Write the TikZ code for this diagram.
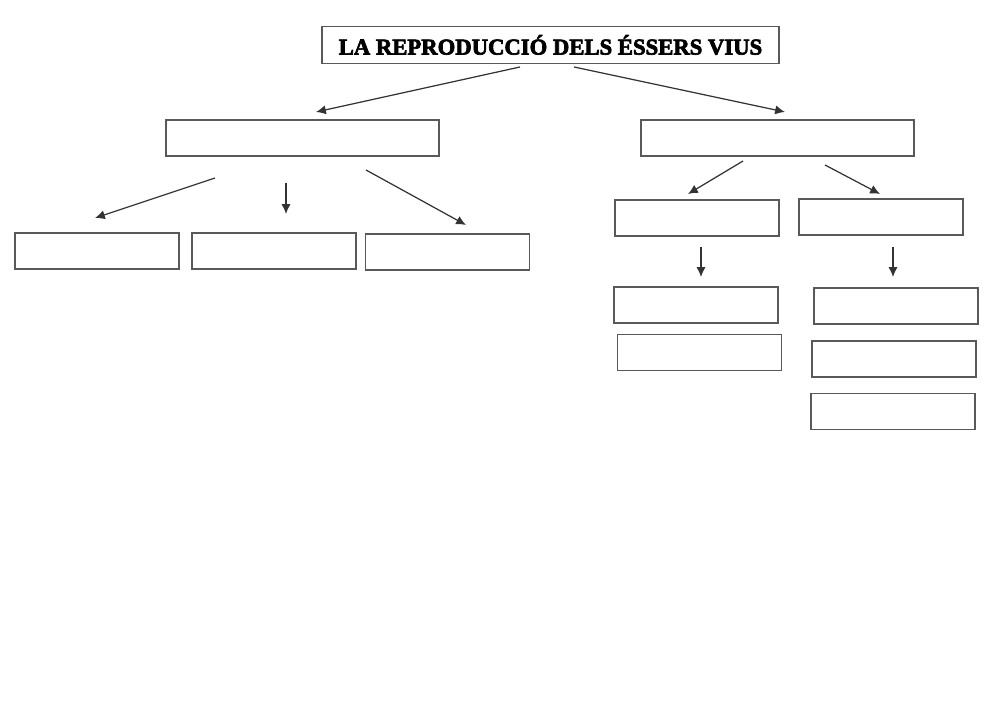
\documentclass[tikz,border=0pt]{standalone}
\usepackage{fontspec}
\setmainfont{Liberation Serif}
\newfontfamily\titlefont[FakeBold=3]{Liberation Serif Bold}
\usetikzlibrary{arrows.meta}
\begin{document}
\begin{tikzpicture}[x=0.01cm, y=-0.01cm,
  titol/.style={draw=black!65,line width=0.45pt,minimum width=4.57cm,minimum height=0.37cm,inner sep=0pt,font=\titlefont\fontsize{6.45}{7}\selectfont},
  gran/.style={draw=black!65,line width=0.45pt,minimum width=2.73cm,minimum height=0.36cm,inner sep=0pt},
  buit/.style={draw=black!65,line width=0.45pt,minimum width=1.64cm,minimum height=0.36cm,inner sep=0pt},
  fletxa/.style={-{Latex[length=2.8pt,width=2.6pt]},line width=0.35pt,black!80}]
\useasboundingbox (0,0) rectangle (1000,707);
\node[titol] (titol) at (550.5,45) {LA REPRODUCCIÓ DELS ÉSSERS VIUS};
% primer nivell
\node[gran] (esq) at (302.5,138) {};
\node[gran] (dre) at (777.5,138) {};
% branca esquerra
\node[buit] (e1) at (97,251) {};
\node[buit] (e2) at (274,251) {};
\node[buit] (e3) at (447.5,252) {};
% branca dreta
\node[buit] (d1) at (697,218) {};
\node[buit] (d2) at (881,217) {};
\node[buit] (d1a) at (696,305) {};
\node[buit] (d1b) at (699.5,352.5) {};
\node[buit] (d2a) at (896,306) {};
\node[buit] (d2b) at (894,359) {};
\node[buit] (d2c) at (893,411.5) {};
% extrems de les fletxes
\coordinate (t1) at (520,67);   \coordinate (t1f) at (316,112);
\coordinate (t2) at (574,67);   \coordinate (t2f) at (785,112);
\coordinate (a1) at (215,178);  \coordinate (a1f) at (95,218);
\coordinate (a2) at (286,183);  \coordinate (a2f) at (286,214);
\coordinate (a3) at (366,170);  \coordinate (a3f) at (466,225);
\coordinate (b1) at (743,161);  \coordinate (b1f) at (688,194);
\coordinate (b2) at (825,165);  \coordinate (b2f) at (880,194);
\coordinate (c1) at (701,247);  \coordinate (c1f) at (701,277);
\coordinate (c2) at (893,247);  \coordinate (c2f) at (893,277);
\draw[fletxa] (t1) -- (t1f);
\draw[fletxa] (t2) -- (t2f);
\draw[fletxa] (a1) -- (a1f);
\draw[fletxa] (a2) -- (a2f);
\draw[fletxa] (a3) -- (a3f);
\draw[fletxa] (b1) -- (b1f);
\draw[fletxa] (b2) -- (b2f);
\draw[fletxa] (c1) -- (c1f);
\draw[fletxa] (c2) -- (c2f);
\end{tikzpicture}
\end{document}
